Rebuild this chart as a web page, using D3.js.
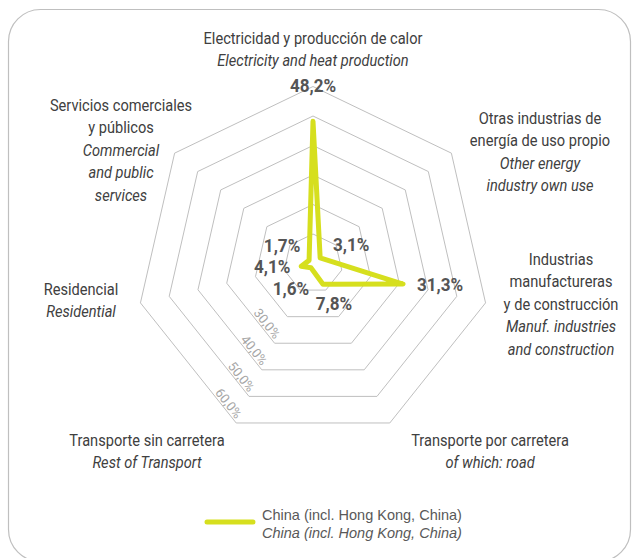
<!DOCTYPE html>
<html>
<head>
<meta charset="utf-8">
<script src="https://cdn.jsdelivr.net/npm/d3@7"></script>
<style>
  body { margin: 0; background: #fff; }
  text { font-family: Roboto, "Liberation Sans", sans-serif; }
</style>
</head>
<body>
<svg id="chart" width="638" height="558"></svg>
<script>
// Sector shares of CO2 emissions from fuel combustion, China (incl. Hong Kong)
const categoriesEs = [
  ["Electricidad y producción de calor"],
  ["Otras industrias de", "energía de uso propio"],
  ["Industrias", "manufactureras", "y de construcción"],
  ["Transporte por carretera"],
  ["Transporte sin carretera"],
  ["Residencial"],
  ["Servicios comerciales", "y públicos"]
];
const categoriesEn = [
  ["Electricity and heat production"],
  ["Other energy", "industry own use"],
  ["Manuf. industries", "and construction"],
  ["of which: road"],
  ["Rest of Transport"],
  ["Residential"],
  ["Commercial", "and public", "services"]
];
const values = [48.2, 3.1, 31.3, 7.8, 1.6, 4.1, 1.7];
const ringTicks = [10, 20, 30, 40, 50, 60];
const labelledTicks = [30, 40, 50, 60];
const seriesName = "China (incl. Hong Kong, China)";

// Layout
const cx = 313, cy = 263.5, R = 177;
const lineH = 22.5;
const condense = 0.86; // horizontal squeeze for the narrow label face
// centre x and first-line y of each category label block
const catLabelPos = [
  [313, 38], [540, 118], [561, 259], [490, 440], [147, 440], [81, 289], [121, 105]
];
// value label offsets from their points
const valueLabelOffset = [
  [0, -36], [31, -14], [37, 0], [11, 19], [-20, 20], [-29, 0], [-27, -15]
];

const svg = d3.select("#chart");
const n = values.length;
const r = d3.scaleLinear().domain([0, 60]).range([0, R]);
const angle = d3.scalePoint().domain(d3.range(n + 1)).range([0, 2 * Math.PI]);
const pt = (i, v) => {
  const a = angle(i % n);
  return [cx + r(v) * Math.sin(a), cy - r(v) * Math.cos(a)];
};

// frame
svg.append("rect")
  .attr("x", 8.5).attr("y", 9.5)
  .attr("width", 622).attr("height", 552)
  .attr("rx", 32).attr("ry", 32)
  .attr("fill", "none").attr("stroke", "#bfbfbf").attr("stroke-width", 1.2);

// rings
const ringLine = d3.line();
svg.append("g").selectAll("path").data(ringTicks).join("path")
  .attr("d", t => ringLine(d3.range(n).map(i => pt(i, t))) + "Z")
  .attr("fill", "none").attr("stroke", "#bfbfbf").attr("stroke-width", 1);

// ring labels along the lower-left axis
const tickFmt = v => d3.format(".1f")(v).replace(".", ",") + "%";
const edgeAngle = 360 / n;
svg.append("g").selectAll("text").data(labelledTicks).join("text")
  .attr("transform", t => {
    const [x, y] = pt(4, t);
    return `translate(${x - 7.6},${y - 19.7}) rotate(${edgeAngle})`;
  })
  .attr("text-anchor", "middle").attr("dominant-baseline", "central")
  .attr("font-size", 13).attr("fill", "#a6a6a6")
  .text(tickFmt);

// series
const poly = values.map((v, i) => pt(i, v));
svg.append("path")
  .attr("d", d3.line()(poly) + "Z")
  .attr("fill", "none").attr("stroke", "#d6df1e").attr("stroke-width", 5)
  .attr("stroke-linejoin", "round");

// value labels
const valFmt = v => d3.format(".1f")(v).replace(".", ",") + "%";
svg.append("g").selectAll("text").data(values).join("text")
  .attr("transform", (v, i) => {
    const [x, y] = pt(i, v);
    return `translate(${x + valueLabelOffset[i][0]},${y + valueLabelOffset[i][1]}) scale(0.9,1)`;
  })
  .attr("text-anchor", "middle").attr("dominant-baseline", "central")
  .attr("font-size", 19).attr("font-weight", "bold").attr("fill", "#555555")
  .text(valFmt);

// category labels
const cat = svg.append("g").selectAll("g").data(d3.range(n)).join("g")
  .attr("transform", i => `translate(${catLabelPos[i][0]},${catLabelPos[i][1]}) scale(${condense},1)`);
cat.each(function (i) {
  const t = d3.select(this).append("text")
    .attr("text-anchor", "middle").attr("font-size", 17).attr("fill", "#404040");
  const lines = categoriesEs[i].map(s => ({ s, it: false }))
    .concat(categoriesEn[i].map(s => ({ s, it: true })));
  lines.forEach((l, k) => {
    t.append("tspan").attr("x", 0).attr("y", k * lineH)
      .attr("dominant-baseline", "central")
      .attr("font-style", l.it ? "italic" : "normal")
      .text(l.s);
  });
});

// legend
const lg = svg.append("g");
lg.append("line").attr("x1", 207).attr("x2", 253).attr("y1", 522).attr("y2", 522)
  .attr("stroke", "#d6df1e").attr("stroke-width", 5).attr("stroke-linecap", "round");
lg.append("text").attr("x", 262).attr("y", 515).attr("dominant-baseline", "central")
  .attr("font-size", 14.5).attr("fill", "#595959")
  .style("font-family", "'Liberation Sans', Arial, sans-serif")
  .text(seriesName);
lg.append("text").attr("x", 262).attr("y", 533).attr("dominant-baseline", "central")
  .attr("font-size", 14.5).attr("fill", "#595959").attr("font-style", "italic")
  .style("font-family", "'Liberation Sans', Arial, sans-serif")
  .text(seriesName);
</script>
</body>
</html>
